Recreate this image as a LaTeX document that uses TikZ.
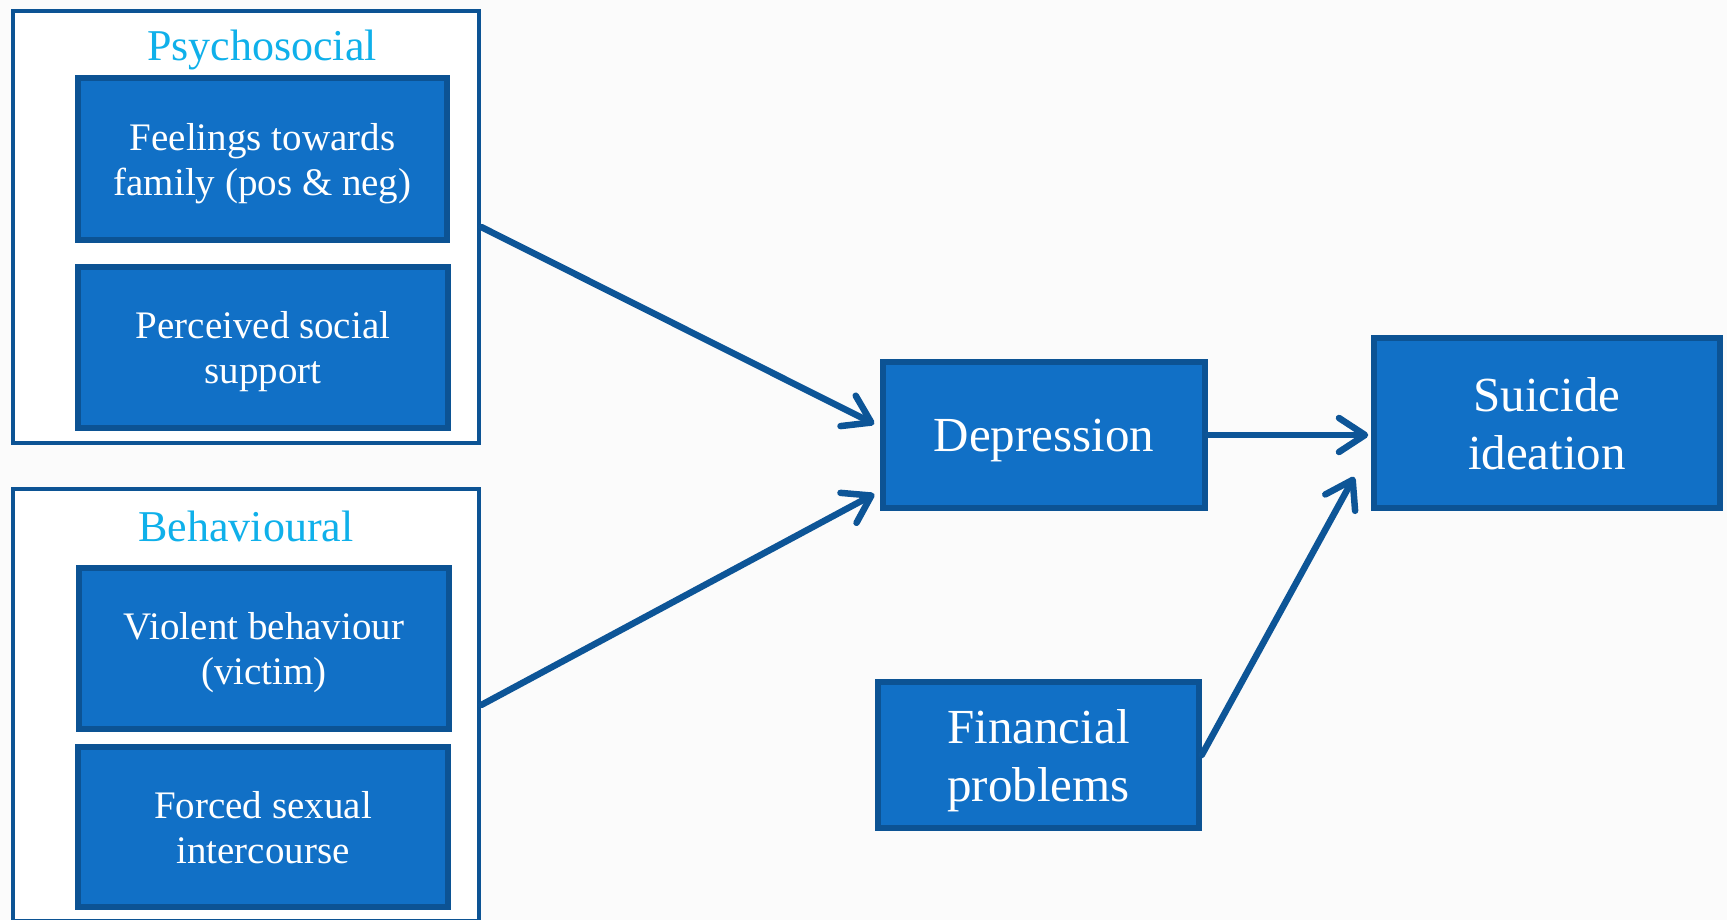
\documentclass[tikz,border=0pt]{standalone}
\usepackage{fontspec}
\setmainfont{Liberation Serif}
\usetikzlibrary{arrows.meta}
\definecolor{boxfill}{HTML}{1170C6}
\definecolor{boxline}{HTML}{0C5394}
\definecolor{arrowc}{HTML}{0D5597}
\definecolor{headc}{HTML}{0FB0EA}
\definecolor{bgc}{HTML}{FBFBFB}
\begin{document}
\begin{tikzpicture}[x=1pt,y=-1pt,
  grp/.style={draw=boxline, line width=4.5pt, fill=white, inner sep=0pt},
  item/.style={draw=boxline, line width=5.5pt, fill=boxfill, text=white, align=center, inner sep=0pt, text depth=0pt, font=\fontsize{39}{45}\selectfont},
  big/.style={draw=boxline, line width=5.5pt, fill=boxfill, text=white, align=center, inner sep=0pt, text depth=0pt, font=\fontsize{49}{58}\selectfont},
  head/.style={text=headc, anchor=base, inner sep=0pt, font=\fontsize{44}{50}\selectfont},
  conn/.style={draw=arrowc, line width=6.5pt, line cap=round, -{Straight Barb[length=26pt,width=34pt,line cap=round,line join=round]}}]
\clip (0,0) rectangle (1727,920);
\fill[bgc] (0,0) rectangle (1727,920);
% groups
\node[grp, minimum width=466pt, minimum height=432pt] (psy) at (246,227) {};
\node[grp, minimum width=466pt, minimum height=432pt] (beh) at (246,705) {};
\node[head] (psyh) at (262,61) {Psychosocial};
\node[head] (behh) at (246,541) {Behavioural};
% items
\node[item, minimum width=369pt, minimum height=162pt] (feel) at (262.5,159) {Feelings towards\\family (pos \& neg)};
\node[item, minimum width=370pt, minimum height=161pt] (perc) at (263,347.5) {Perceived social\\support};
\node[item, minimum width=370pt, minimum height=161pt] (viol) at (264,648.5) {Violent behaviour\\(victim)};
\node[item, minimum width=370pt, minimum height=160pt] (forc) at (263,827) {Forced sexual\\intercourse};
% right side
\node[big, minimum width=322pt, minimum height=146pt] (dep) at (1044,435) {Depression};
\node[big, minimum width=346pt, minimum height=170pt] (sui) at (1547,423) {Suicide\\ideation};
\node[big, minimum width=321pt, minimum height=146pt] (fin) at (1038.5,755) {Financial\\problems};
% connectors
\draw[conn] (psy.east) -- ([xshift=-6pt,yshift=11pt]dep.west);
\draw[conn] (beh.east) -- ([xshift=-6pt,yshift=-59pt]dep.west);
\draw[conn, shorten >=3pt] (dep.east) -- (dep.east -| sui.west);
\draw[conn] (fin.east) -- ([xshift=-17pt,yshift=-54pt]sui.west);
\end{tikzpicture}
\end{document}
